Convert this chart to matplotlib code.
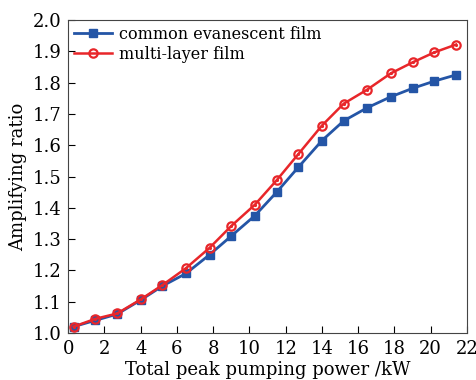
import matplotlib
matplotlib.use('Agg')
import matplotlib.pyplot as plt

power = [0.3, 1.5, 2.7, 4.0, 5.2, 6.5, 7.8, 9.0, 10.3, 11.5, 12.7, 14.0,
         15.2, 16.5, 17.8, 19.0, 20.2, 21.4]
common = [1.02, 1.04, 1.06, 1.105, 1.15, 1.19, 1.25, 1.31, 1.375, 1.45, 1.53,
          1.615, 1.678, 1.72, 1.755, 1.782, 1.805, 1.825]
multi = [1.02, 1.045, 1.062, 1.107, 1.153, 1.207, 1.272, 1.342, 1.41, 1.488,
         1.572, 1.663, 1.733, 1.778, 1.83, 1.865, 1.897, 1.922]

plt.rcParams['font.family'] = 'DejaVu Serif'

fig, ax = plt.subplots(figsize=(4.77, 3.80), dpi=100)
fig.subplots_adjust(left=0.143, right=0.979, top=0.947, bottom=0.124)

ax.plot(power, common, color='#2455a6', lw=2, marker='s', ms=5.5,
        label='common evanescent film')
ax.plot(power, multi, color='#e8262a', lw=1.8, marker='o', ms=6,
        mfc='none', mew=1.6, label='multi-layer film')
ax.plot(power, multi, ls='none', marker='.', ms=2.5, color='#e8262a')

ax.set_xlim(0, 22)
ax.set_ylim(1.0, 2.0)
ax.set_xticks(range(0, 23, 2))
ax.set_yticks([1.0 + 0.1 * i for i in range(11)])
ax.tick_params(direction='in', labelsize=13, length=5, pad=5)
for s in ax.spines.values():
    s.set_color('#444444')

ax.set_xlabel('Total peak pumping power /kW', fontsize=13, labelpad=2)
ax.set_ylabel('Amplifying ratio', fontsize=13, labelpad=4)

ax.legend(loc='upper left', frameon=False, fontsize=11.5, handlelength=2.4,
          borderaxespad=0.0, labelspacing=0.2, handletextpad=0.4,
          borderpad=0.35)

fig.savefig('out.png')
